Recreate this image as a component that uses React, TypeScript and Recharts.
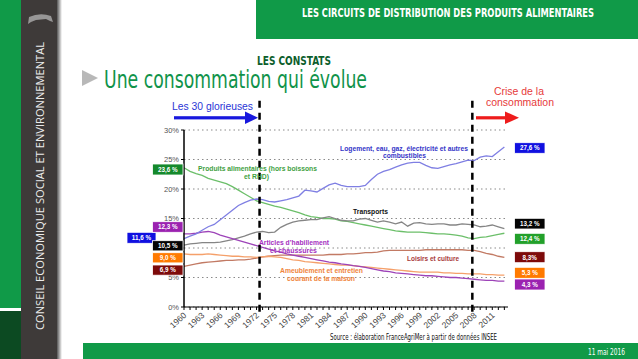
import React from 'react';
import { LineChart, Line, XAxis, YAxis, CartesianGrid, ReferenceLine } from 'recharts';

const years = [1960, 1961, 1962, 1963, 1964, 1965, 1966, 1967, 1968, 1969, 1970, 1971, 1972, 1973, 1974, 1975, 1976, 1977, 1978, 1979, 1980, 1981, 1982, 1983, 1984, 1985, 1986, 1987, 1988, 1989, 1990, 1991, 1992, 1993, 1994, 1995, 1996, 1997, 1998, 1999, 2000, 2001, 2002, 2003, 2004, 2005, 2006, 2007, 2008, 2009, 2010, 2011, 2012, 2013];
const labelYears = [1960, 1963, 1966, 1969, 1972, 1975, 1978, 1981, 1984, 1987, 1990, 1993, 1996, 1999, 2002, 2005, 2008, 2011];
const yTicks = [0, 5, 10, 15, 20, 25, 30];

const logement = [11.6, 12.0, 12.4, 13.0, 13.6, 14.0, 14.8, 15.6, 16.4, 17.2, 17.7, 18.1, 18.3, 18.2, 17.9, 17.8, 18.0, 18.2, 18.5, 18.8, 19.8, 19.7, 19.5, 20.1, 20.7, 21.0, 20.6, 20.4, 20.4, 20.4, 20.6, 21.6, 22.5, 23.0, 23.3, 23.7, 24.1, 24.4, 24.5, 24.5, 24.0, 23.6, 23.5, 23.8, 24.1, 24.3, 24.6, 24.9, 24.8, 25.4, 25.6, 25.5, 26.3, 27.1];
const alimentaires = [23.6, 23.0, 22.6, 22.3, 21.8, 21.5, 21.2, 20.9, 20.4, 19.8, 19.2, 18.6, 18.0, 17.7, 17.4, 17.1, 16.9, 16.6, 16.3, 16.0, 15.6, 15.3, 15.2, 15.0, 15.0, 14.9, 14.6, 14.5, 14.3, 14.1, 13.9, 13.7, 13.5, 13.3, 13.1, 12.9, 12.8, 12.7, 12.7, 12.7, 12.6, 12.5, 12.4, 12.4, 12.3, 12.2, 12.0, 11.7, 11.6, 11.8, 11.9, 12.1, 12.3, 12.5];
const transports = [10.5, 10.7, 10.8, 10.9, 10.9, 10.9, 11.0, 11.2, 11.4, 11.7, 12.0, 12.4, 12.7, 12.8, 12.6, 12.7, 13.5, 14.0, 14.4, 14.6, 14.7, 14.8, 14.8, 15.1, 15.3, 15.0, 14.7, 14.6, 14.6, 14.9, 15.0, 14.7, 14.4, 14.6, 14.4, 14.1, 14.4, 13.7, 14.2, 14.3, 14.1, 14.0, 14.1, 14.1, 13.9, 13.9, 14.1, 14.0, 13.9, 13.6, 13.7, 13.9, 13.6, 13.3];
const habillement = [12.4, 12.4, 12.5, 12.7, 12.8, 12.6, 12.2, 11.9, 11.6, 11.3, 11.0, 10.7, 10.4, 10.1, 9.8, 9.5, 9.3, 9.0, 8.8, 8.6, 8.4, 8.2, 8.0, 7.8, 7.6, 7.5, 7.3, 7.2, 7.0, 6.9, 6.7, 6.5, 6.3, 6.1, 6.0, 5.8, 5.7, 5.6, 5.5, 5.4, 5.3, 5.3, 5.2, 5.1, 5.0, 5.0, 4.9, 4.8, 4.7, 4.6, 4.5, 4.5, 4.4, 4.4];
const ameublement = [9.0, 8.9, 8.9, 8.9, 9.0, 8.9, 8.8, 8.7, 8.6, 8.6, 8.5, 8.5, 8.4, 8.5, 8.6, 8.5, 8.4, 8.2, 8.0, 7.9, 7.7, 7.6, 7.5, 7.4, 7.3, 7.2, 7.1, 7.1, 7.0, 6.9, 6.8, 6.7, 6.6, 6.5, 6.4, 6.3, 6.2, 6.1, 6.0, 5.9, 5.9, 5.9, 5.9, 5.8, 5.8, 5.7, 5.7, 5.6, 5.6, 5.6, 5.5, 5.5, 5.4, 5.4];
const loisirs = [6.9, 7.1, 7.3, 7.5, 7.6, 7.7, 7.8, 7.9, 7.9, 8.0, 8.0, 8.1, 8.3, 8.5, 8.6, 8.7, 8.8, 8.8, 8.8, 8.8, 8.8, 8.8, 8.8, 8.8, 8.9, 8.9, 8.9, 9.0, 9.0, 9.1, 9.2, 9.2, 9.3, 9.5, 9.6, 9.6, 9.6, 9.6, 9.6, 9.6, 9.7, 9.7, 9.7, 9.7, 9.7, 9.7, 9.7, 9.6, 9.6, 9.4, 9.1, 8.9, 8.6, 8.4];

const crisisStarts = [1972.5, 2007.7];

const data = years.map((year, i) => ({
  year,
  logement: logement[i],
  alimentaires: alimentaires[i],
  transports: transports[i],
  habillement: habillement[i],
  ameublement: ameublement[i],
  loisirs: loisirs[i],
}));

const SANS = '"Liberation Sans", Arial, sans-serif';
const NARROW = '"Liberation Sans Narrow", "DejaVu Sans Condensed", "Liberation Sans", sans-serif';

const XTick = (props: any) => {
  const { x, y, payload } = props;
  if (!labelYears.includes(payload.value)) return null;
  return (
    <g transform={`translate(${x + 3},${y + 4})`}>
      <text x={0} y={0} textAnchor="end" transform="rotate(-42)" fontSize={8.5} fill="#444" fontFamily={SANS}>
        {payload.value}
      </text>
    </g>
  );
};

const Box = ({ x, y, w, h, fill, text }: any) => (
  <g>
    <rect x={x} y={y} width={w} height={h} fill={fill} stroke="#fff" strokeWidth={0.8} />
    <text x={x + w / 2} y={y + h / 2 + 2.3} textAnchor="middle" fontSize={6.3} fontWeight="bold" fill="#fff" fontFamily={SANS}>{text}</text>
  </g>
);

export default function App() {
  return (
    <div style={{ position: 'fixed', left: 0, top: 0, width: 638, height: 359, background: '#fff', overflow: 'hidden' }}>
      <LineChart width={638} height={359} data={data} margin={{ top: 130, right: 130, bottom: 12, left: 154 }}>
        <CartesianGrid horizontal vertical={false} stroke="#8a8a8a" strokeDasharray="1.5 3" />
        <XAxis
          dataKey="year"
          type="number"
          domain={[1960, 2013.6]}
          ticks={years}
          interval={0}
          height={40}
          tick={<XTick />}
          tickSize={3}
          axisLine={{ stroke: '#000', strokeWidth: 1.2 }}
          tickLine={{ stroke: '#000' }}
        />
        <YAxis
          type="number"
          domain={[0, 30]}
          ticks={yTicks}
          width={30}
          tickFormatter={(v: number) => `${v}%`}
          tick={{ fontSize: 7.5, fill: '#555', fontFamily: SANS }}
          tickSize={3}
          axisLine={{ stroke: '#000', strokeWidth: 1.5 }}
          tickLine={{ stroke: '#000' }}
        />
        <Line dataKey="alimentaires" stroke="#6cbf6a" strokeWidth={1.3} dot={false} isAnimationActive={false} />
        <Line dataKey="transports" stroke="#858585" strokeWidth={1.3} dot={false} isAnimationActive={false} />
        <Line dataKey="loisirs" stroke="#c27a64" strokeWidth={1.3} dot={false} isAnimationActive={false} />
        <Line dataKey="ameublement" stroke="#f5a06a" strokeWidth={1.3} dot={false} isAnimationActive={false} />
        <Line dataKey="habillement" stroke="#9d43b8" strokeWidth={1.3} dot={false} isAnimationActive={false} />
        <Line dataKey="logement" stroke="#7f7fe3" strokeWidth={1.3} dot={false} isAnimationActive={false} />
        {crisisStarts.map((x) => (
          <ReferenceLine
            key={x}
            segment={[{ x, y: -0.8 }, { x, y: 35.4 }]}
            ifOverflow="visible"
            stroke="#000"
            strokeWidth={2.5}
            strokeDasharray="7 5"
          />
        ))}
      </LineChart>

      <svg width={638} height={359} style={{ position: 'absolute', left: 0, top: 0, pointerEvents: 'none' }}>
        {/* left sidebar */}
        <rect x={0} y={0} width={21} height={308} fill="#109a48" />
        <rect x={0} y={308} width={21} height={3} fill="#fff" />
        <rect x={0} y={311} width={21} height={48} fill="#0c4a22" />
        <defs>
          <linearGradient id="shadow" x1="0" x2="1" y1="0" y2="0">
            <stop offset="0" stopColor="#555" />
            <stop offset="1" stopColor="#fff" />
          </linearGradient>
        </defs>
        <rect x={57} y={0} width={5} height={359} fill="url(#shadow)" />
        <rect x={21} y={0} width={36} height={359} fill="#3e3a39" />
        <path d="M28 24 L29 17 Q40 12 51 16 L53 22 L50 21 L46 19 L36 20 L31 22 Z" fill="#bdbdbd" opacity={0.7} />
        <text transform="translate(43.5,330) rotate(-90)" fontSize={11.5} fill="#ececec" fontFamily='"Open Sans", "Noto Sans", sans-serif' textLength={288} lengthAdjust="spacingAndGlyphs">CONSEIL ECONOMIQUE SOCIAL ET ENVIRONNEMENTAL</text>

        {/* header */}
        <rect x={256} y={0} width={382} height={39} fill="#109a48" />
        <text x={302} y={16.5} fontSize={13} fontWeight="bold" fill="#fff" fontFamily={NARROW} textLength={292} lengthAdjust="spacingAndGlyphs">LES CIRCUITS DE DISTRIBUTION DES PRODUITS ALIMENTAIRES</text>

        <text x={257} y={65} fontSize={13} fontWeight="bold" fill="#0c5e2c" fontFamily={NARROW} textLength={74} lengthAdjust="spacingAndGlyphs">LES CONSTATS</text>
        <polygon points="82,70 82,86 98,78" fill="#b8b8b8" />
        <text x={104} y={88} fontSize={25} fill="#10934a" fontFamily={NARROW} textLength={263} lengthAdjust="spacingAndGlyphs">Une consommation qui évolue</text>

        {/* bottom bar */}
        <rect x={83} y={343} width={555} height={16} fill="#109a48" />
        <text x={588} y={354.5} fontSize={9} fill="#fff" fontFamily={NARROW} textLength={37} lengthAdjust="spacingAndGlyphs">11 mai 2016</text>
        <text x={330} y={340} fontSize={8} fill="#111" fontFamily={NARROW} textLength={167} lengthAdjust="spacingAndGlyphs">Source : élaboration FranceAgriMer à partir de données INSEE</text>

        {/* periods */}
        <text x={172} y={109.5} fontSize={10} fill="#2a35d6" fontFamily={SANS} textLength={81} lengthAdjust="spacingAndGlyphs">Les 30 glorieuses</text>
        <rect x={174} y={116.2} width={72} height={3.2} fill="#1818de" />
        <polygon points="245,111.5 258,117.8 245,124" fill="#1818de" />
        <text x={494} y={94.5} fontSize={10} fill="#e63a3a" fontFamily={SANS} textLength={50} lengthAdjust="spacingAndGlyphs">Crise de la</text>
        <text x={486} y={106} fontSize={10} fill="#e63a3a" fontFamily={SANS} textLength={68} lengthAdjust="spacingAndGlyphs">consommation</text>
        <rect x={476} y={116.2} width={30} height={3.2} fill="#ee1c1c" />
        <polygon points="505,111.5 519,117.8 505,124" fill="#ee1c1c" />

        {/* series labels */}
        <g fontFamily={SANS} fontWeight="bold" fontSize={6.8}>
          <text x={340} y={150.8} fill="#3535c8" textLength={128} lengthAdjust="spacingAndGlyphs">Logement, eau, gaz, électricité et autres</text>
          <text x={383} y={158.3} fill="#3535c8" textLength={43} lengthAdjust="spacingAndGlyphs">combustibles</text>
          <text x={198} y={170.8} fill="#3f9f3f" textLength={119} lengthAdjust="spacingAndGlyphs">Produits alimentaires (hors boissons</text>
          <text x={244} y={178.5} fill="#3f9f3f" textLength={25} lengthAdjust="spacingAndGlyphs">et RHD)</text>
          <text x={353} y={213.5} fill="#111" textLength={35} lengthAdjust="spacingAndGlyphs">Transports</text>
          <text x={259} y={244.8} fill="#a52fc0" textLength={70} lengthAdjust="spacingAndGlyphs">Articles d’habillement</text>
          <text x={270} y={252.5} fill="#a52fc0" textLength={47} lengthAdjust="spacingAndGlyphs">et chaussures</text>
          <text x={280} y={273.2} fill="#f0843c" textLength={83} lengthAdjust="spacingAndGlyphs">Ameublement et entretien</text>
          <text x={287} y={280.5} fill="#f0843c" textLength={68} lengthAdjust="spacingAndGlyphs">courant de la maison</text>
          <text x={407} y={260.8} fill="#a83a3a" textLength={52} lengthAdjust="spacingAndGlyphs">Loisirs et culture</text>
        </g>

        {/* value boxes left */}
        <Box x={152.5} y={164} w={30.5} h={11} fill="#14892c" text="23,6 %" />
        <Box x={127} y={232.3} w={29} h={11} fill="#1010e0" text="11,6 %" />
        <Box x={152.5} y={221.7} w={30.5} h={10.6} fill="#9b22b0" text="12,3 %" />
        <Box x={152.5} y={240.7} w={30.5} h={10.2} fill="#050505" text="10,5 %" />
        <Box x={152.5} y={252.7} w={30.5} h={10.2} fill="#ff7a00" text="9,0 %" />
        <Box x={152.5} y={265} w={30.5} h={10.2} fill="#7d0a0a" text="6,9 %" />

        {/* value boxes right */}
        <Box x={514.5} y={142.7} w={30.5} h={10.6} fill="#1010e0" text="27,6 %" />
        <Box x={514.5} y={218.3} w={30.5} h={10.7} fill="#050505" text="13,2 %" />
        <Box x={514.5} y={233.3} w={30.5} h={11} fill="#22a02a" text="12,4 %" />
        <Box x={514.5} y={251.7} w={30.5} h={11} fill="#7d0a0a" text="8,3%" />
        <Box x={514.5} y={267.3} w={30.5} h={11} fill="#ff7a00" text="5,3 %" />
        <Box x={514.5} y={279} w={30.5} h={11} fill="#9b22b0" text="4,3 %" />
      </svg>
    </div>
  );
}
